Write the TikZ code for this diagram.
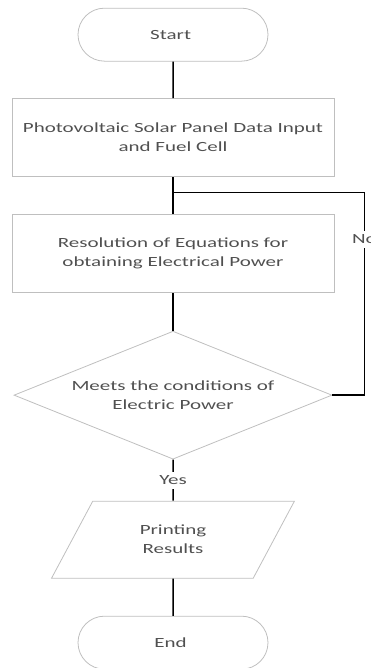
\documentclass[tikz,border=0pt]{standalone}
\usepackage{fontspec}
\setmainfont{Carlito}[FakeStretch=1.5]
\usetikzlibrary{matrix,shapes.geometric,shapes.misc,calc}
\definecolor{boxgray}{HTML}{BFBFBF}
\definecolor{txtgray}{HTML}{505050}

\tikzset{
terminal/.style={rounded rectangle, minimum width=190pt, minimum height=53pt},
process/.style={rectangle, inner sep=0pt, minimum width=322pt, minimum height=78pt},
decision/.style={diamond, shape aspect=2.5, inner sep=0pt, minimum width=318pt, minimum height=128pt},
inout/.style={trapezium, trapezium left angle=54.5, trapezium right angle=125.5,
  trapezium stretches=true, minimum width=243pt, minimum height=77pt},
flowlabel/.style={fill=white, inner sep=4pt}
}

\begin{document}
\begin{tikzpicture}[x=1pt,y=1pt,line width=1.5pt,
font=\fontsize{14}{19}\selectfont, text=txtgray]
\useasboundingbox (0,0) rectangle (370,-668);
\matrix [matrix of nodes, at={(173,-7)}, anchor=north, inner sep=0pt,
row sep={103pt,between origins},
nodes={draw=boxgray, line width=.8pt, anchor=center, align=flush center}]
{
|[terminal] (start)| Start \\
|[process, text width=318pt] (input)| Photovoltaic Solar Panel Data Input and Fuel Cell \\[13pt]
|[process, text width=250pt] (solve)| Resolution of Equations for obtaining Electrical Power \\[38.5pt]
|[decision, text width=218pt] (check)| Meets the conditions of Electric Power \\[41.5pt]
|[inout, text width=80pt] (print)| Printing Results \\
|[terminal] (end)| End \\};

\coordinate (join) at ($(input.south)!0.42!(solve.north)$);

\draw (start)--(input);
\draw (input)--(solve);
\draw (solve)--(check);
\draw (check)--(print) node [midway, flowlabel] {Yes};
\draw (print)--(end);

\draw (check.east) -- ++(32,0) |- node[pos=0.385, flowlabel] {No} (join);

\end{tikzpicture}
\end{document}
